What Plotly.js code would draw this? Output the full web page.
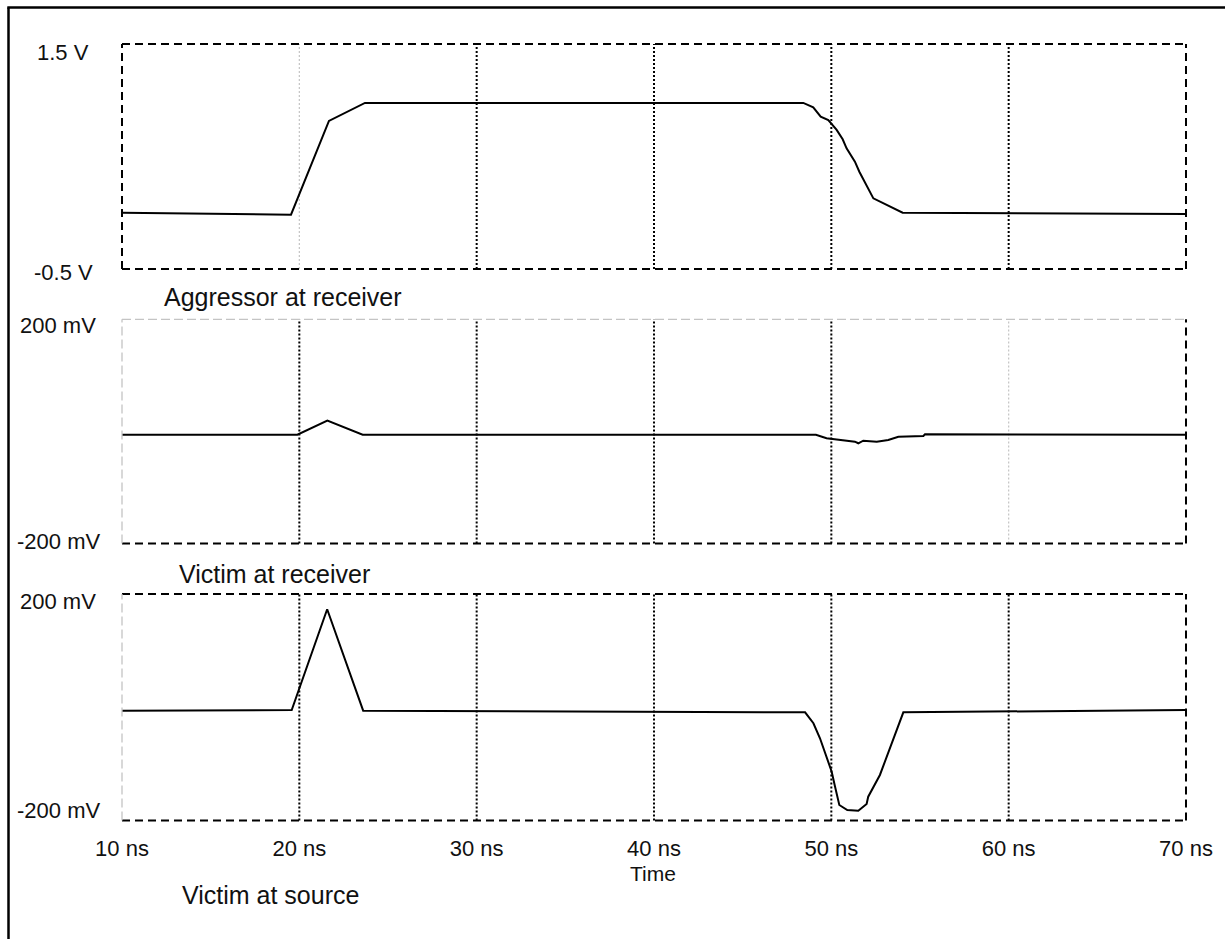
<!DOCTYPE html>
<html>
<head>
<meta charset="utf-8">
<script src="https://cdn.plot.ly/plotly-3.0.1.min.js"></script>
<style>html,body{margin:0;padding:0;background:#fff;}#chart{width:1225px;height:939px;}</style>
</head>
<body>
<div id="chart"></div>
<script>
// ---- data (time in ns) ----
const aggT = [10, 19.53, 21.67, 23.70, 48.42, 48.98, 49.40, 49.83, 50.30, 50.64, 50.86, 51.33, 51.58, 52.09, 52.37, 54.02, 70];
const aggV = [0.0, -0.017, 0.816, 0.976, 0.976, 0.937, 0.854, 0.824, 0.736, 0.653, 0.573, 0.454, 0.365, 0.217, 0.128, 0.0, -0.011];

const vrT = [10, 19.89, 21.58, 23.57, 49.13, 49.73, 51.33, 51.52, 51.80, 52.56, 53.21, 53.78, 55.19, 55.28, 70];
const vrV = [-6, -6, 19.1, -6, -6, -12.3, -18.4, -21.2, -16.6, -18.4, -15.3, -9.5, -8.2, -5.2, -6];

const vsT = [10, 19.57, 21.57, 23.60, 48.52, 48.99, 49.36, 49.74, 50.02, 50.21, 50.45, 50.90, 51.52, 51.99, 52.08, 52.74, 54.06, 70];
const vsV = [-6, -5, 173.0, -6.1, -8.9, -28.3, -54.8, -87.3, -113.8, -140.3, -172.6, -181.5, -182.7, -170.9, -158.0, -119.6, -8.9, -4.9];

const xTickVals = [10, 20, 30, 40, 50, 60, 70];
const xTickText = ["10 ns", "20 ns", "30 ns", "40 ns", "50 ns", "60 ns", "70 ns"];
const gridVals = [20, 30, 40, 50, 60];

const panelTitles = ["Aggressor at receiver", "Victim at receiver", "Victim at source"];
const yRanges = [[-0.5, 1.5], [-200, 200], [-200, 200]];
const yTickText = [["-0.5 V", "1.5 V"], ["-200 mV", "200 mV"], ["-200 mV", "200 mV"]];

// ---- layout helpers ----
const W = 1225, H = 939;
const px = x => x / W;
const py = y => 1 - y / H;
const FONT = "Liberation Sans, Arial, sans-serif";
const BLACK = "#000000", GREY = "#c4c4c4";

const domainsPx = [[44, 269], [319.3, 543.5], [594, 820.5]];
const xDom = [px(122), px(1186)];

const traces = [
  {x: aggT, y: aggV, xaxis: "x", yaxis: "y"},
  {x: vrT, y: vrV, xaxis: "x2", yaxis: "y2"},
  {x: vsT, y: vsV, xaxis: "x3", yaxis: "y3"}
].map(t => Object.assign(t, {type: "scatter", mode: "lines", line: {color: BLACK, width: 2}, hoverinfo: "skip", showlegend: false}));

const layout = {
  width: W, height: H,
  margin: {l: 0, r: 0, t: 0, b: 0},
  paper_bgcolor: "#ffffff", plot_bgcolor: "rgba(0,0,0,0)",
  font: {family: FONT, color: BLACK},
  showlegend: false,
  shapes: [], annotations: []
};

// border colors: [top, right, bottom, left]
const borderColors = [
  [BLACK, BLACK, BLACK, BLACK],
  [GREY, BLACK, BLACK, GREY],
  [BLACK, BLACK, BLACK, GREY]
];
// grid line colours per panel for 20..60 ns
const gridColors = [
  [GREY, BLACK, BLACK, BLACK, BLACK],
  [BLACK, BLACK, BLACK, BLACK, GREY],
  [BLACK, BLACK, BLACK, BLACK, BLACK]
];
// y tick label vertical shifts (px, positive = up) [bottom, top]
const yShifts = [[-3.5, -8], [2, -6], [10, -7]];
const yLabelCx = [63.5, 58, 58];
const titlePos = [[162, 297], [177, 574], [180, 895]];

for (let i = 0; i < 3; i++) {
  const s = i === 0 ? "" : String(i + 1);
  const d = domainsPx[i];
  layout["xaxis" + s] = {
    domain: xDom, range: [10, 70], anchor: "y" + s,
    showgrid: false, zeroline: false, showline: false, ticks: "",
    showticklabels: i === 2, tickmode: "array", tickvals: xTickVals, ticktext: xTickText,
    tickfont: {family: FONT, size: 22, color: "#111"}, ticklabelstandoff: 12, fixedrange: true
  };
  layout["yaxis" + s] = {
    domain: [py(d[1]), py(d[0])], range: yRanges[i], anchor: "x" + s,
    showgrid: false, zeroline: false, showline: false, showticklabels: false, ticks: "", fixedrange: true
  };
  const xr = "x" + s + " domain", yr = "y" + s + " domain";
  const bc = borderColors[i];
  const edges = [[0, 1, 1, 1], [1, 0, 1, 1], [0, 0, 1, 0], [0, 0, 0, 1]]; // top,right,bottom,left
  gridVals.forEach((g, k) => {
    const c = gridColors[i][k];
    layout.shapes.push({type: "line", layer: "below", xref: "x" + s, yref: yr, x0: g, x1: g, y0: 0, y1: 1,
      line: {color: c, width: c === BLACK ? 2 : 1.2, dash: "2px,2px"}});
  });
  edges.forEach((e, k) => {
    const c = bc[k];
    layout.shapes.push({type: "line", layer: "above", xref: xr, yref: yr, x0: e[0], y0: e[1], x1: e[2], y1: e[3],
      line: {color: c, width: c === BLACK ? 2 : 1.3, dash: c === BLACK ? "8px,5px" : "9px,4px"}});
  });
  yTickText[i].forEach((txt, k) => {
    layout.annotations.push({xref: "paper", yref: "y" + s, x: px(yLabelCx[i]), y: yRanges[i][k], text: txt,
      showarrow: false, xanchor: "center", yanchor: "middle", yshift: yShifts[i][k],
      font: {family: FONT, size: 22, color: "#111"}});
  });
  layout.annotations.push({xref: "paper", yref: "paper", x: px(titlePos[i][0]), y: py(titlePos[i][1]), text: panelTitles[i],
    showarrow: false, xanchor: "left", yanchor: "middle", font: {family: FONT, size: 25, color: "#111"}});
}

layout.annotations.push({xref: "paper", yref: "paper", x: px(653), y: py(873), text: "Time",
  showarrow: false, xanchor: "center", yanchor: "middle", font: {family: FONT, size: 21, color: "#111"}});

// outer frame (left and top edges)
layout.shapes.push({type: "line", xref: "paper", yref: "paper", x0: px(8.5), y0: 0, x1: px(8.5), y1: py(7.5), line: {color: BLACK, width: 2.5}});
layout.shapes.push({type: "line", xref: "paper", yref: "paper", x0: px(7.3), y0: py(7.5), x1: 1, y1: py(7.5), line: {color: BLACK, width: 2.5}});

Plotly.newPlot("chart", traces, layout, {staticPlot: true, displayModeBar: false});
</script>
</body>
</html>
